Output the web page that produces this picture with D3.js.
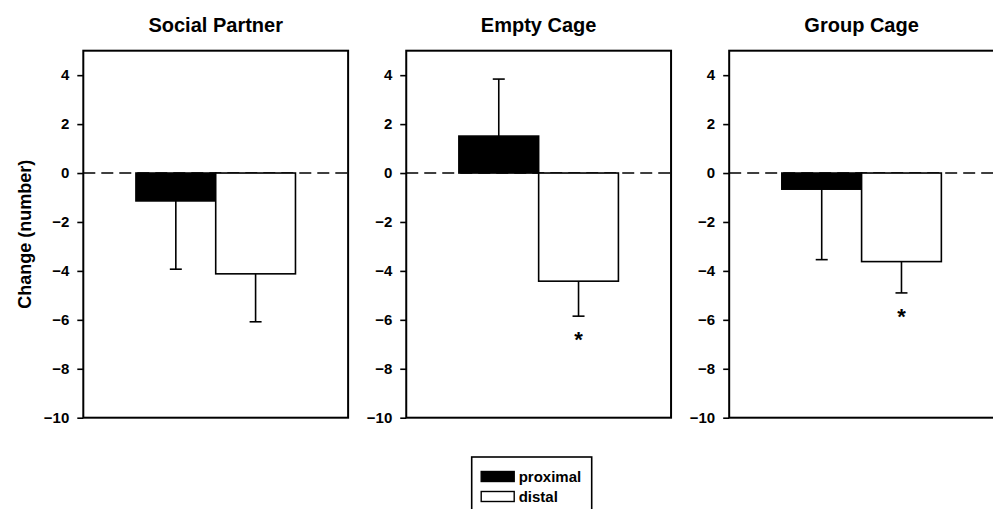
<!DOCTYPE html>
<html>
<head>
<meta charset="utf-8">
<script src="https://cdn.jsdelivr.net/npm/d3@7"></script>
<style>
  body { margin: 0; background: #fff; }
  svg { display: block; font-family: "Liberation Sans", Arial, sans-serif; font-weight: bold; }
</style>
</head>
<body>
<svg id="chart"></svg>
<script>
const panels = ["Social Partner", "Empty Cage", "Group Cage"];
const groups = ["proximal", "distal"];
const proximalMean = [-1.14, 1.51, -0.66];
const proximalErr = [2.79, 2.33, 2.88];
const distalMean = [-4.12, -4.42, -3.62];
const distalErr = [1.96, 1.43, 1.28];
const distalStar = [false, true, true];
const yTicks = [-10, -8, -6, -4, -2, 0, 2, 4];
const fills = { proximal: "#000", distal: "#fff" };

const width = 993, height = 509;
const plotTop = 50.7, plotBottom = 417.7;

const svg = d3.select("#chart")
    .attr("width", width)
    .attr("height", height);

// panel placement
const panelScale = d3.scaleBand()
    .domain(panels)
    .range([83.3, 994])
    .paddingInner(0.18)
    .paddingOuter(0);

const yScale = d3.scaleLinear().domain([-10, 5]).range([plotBottom, plotTop]);

const xScale = d3.scaleBand()
    .domain(groups)
    .range([0, panelScale.bandwidth()])
    .paddingInner(0)
    .paddingOuter(0.66);

const dash = "12,6";

panels.forEach((name, i) => {
    const g = svg.append("g")
        .attr("transform", `translate(${panelScale(name)},0)`);
    const w = panelScale.bandwidth();

    g.append("text")
        .attr("x", w / 2)
        .attr("y", 31.5)
        .attr("text-anchor", "middle")
        .style("font-size", "20px")
        .text(name);

    // zero reference line
    g.append("line")
        .attr("x1", 0)
        .attr("x2", w)
        .attr("y1", yScale(0))
        .attr("y2", yScale(0))
        .style("stroke", "#000")
        .style("stroke-width", 1.6)
        .style("stroke-dasharray", dash);

    const rows = [
        { key: "proximal", v: proximalMean[i], e: proximalErr[i], star: false },
        { key: "distal", v: distalMean[i], e: distalErr[i], star: distalStar[i] }
    ];

    rows.forEach(d => {
        const x0 = xScale(d.key);
        const bw = xScale.bandwidth();
        const cx = x0 + bw / 2;
        const end = d.v >= 0 ? d.v + d.e : d.v - d.e;

        g.append("line")
            .attr("x1", cx).attr("x2", cx)
            .attr("y1", yScale(d.v)).attr("y2", yScale(end))
            .style("stroke", "#000")
            .style("stroke-width", 1.6);
        g.append("line")
            .attr("x1", cx - 6).attr("x2", cx + 6)
            .attr("y1", yScale(end)).attr("y2", yScale(end))
            .style("stroke", "#000")
            .style("stroke-width", 1.6);

        g.append("rect")
            .attr("x", x0)
            .attr("width", bw)
            .attr("y", yScale(Math.max(0, d.v)))
            .attr("height", Math.abs(yScale(d.v) - yScale(0)))
            .style("fill", fills[d.key])
            .style("stroke", "#000")
            .style("stroke-width", 1.6);

        if (d.star) {
            g.append("text")
                .attr("x", cx)
                .attr("y", yScale(end) + 31)
                .attr("text-anchor", "middle")
                .style("font-size", "22px")
                .text("*");
        }
    });

    // frame
    g.append("rect")
        .attr("x", 0)
        .attr("y", plotTop)
        .attr("width", w)
        .attr("height", plotBottom - plotTop)
        .style("fill", "none")
        .style("stroke", "#000")
        .style("stroke-width", 2);

    const axis = g.append("g")
        .call(d3.axisLeft(yScale).tickValues(yTicks).tickSize(6).tickPadding(8));
    axis.select(".domain").remove();
    axis.selectAll("line").style("stroke-width", 1.6);
    axis.selectAll("text")
        .style("font-size", "15px")
        .style("font-family", "'Liberation Sans', Arial, sans-serif")
        .style("font-weight", "bold")
        .attr("fill", "#000");
});

svg.append("text")
    .attr("transform", `translate(31,${(plotTop + plotBottom) / 2}) rotate(-90)`)
    .attr("text-anchor", "middle")
    .style("font-size", "18px")
    .text("Change (number)");

// legend
const legend = svg.append("g").attr("transform", "translate(471.7,457)");
legend.append("rect")
    .attr("width", 120)
    .attr("height", 70)
    .style("fill", "#fff")
    .style("stroke", "#000")
    .style("stroke-width", 1.6);

groups.forEach((key, j) => {
    legend.append("rect")
        .attr("x", 9.5)
        .attr("y", 14.5 + j * 20)
        .attr("width", 33)
        .attr("height", 10)
        .style("fill", fills[key])
        .style("stroke", "#000")
        .style("stroke-width", 1.4);
    legend.append("text")
        .attr("x", 47)
        .attr("y", 25 + j * 20)
        .style("font-size", "15px")
        .text(key);
});
</script>
</body>
</html>
